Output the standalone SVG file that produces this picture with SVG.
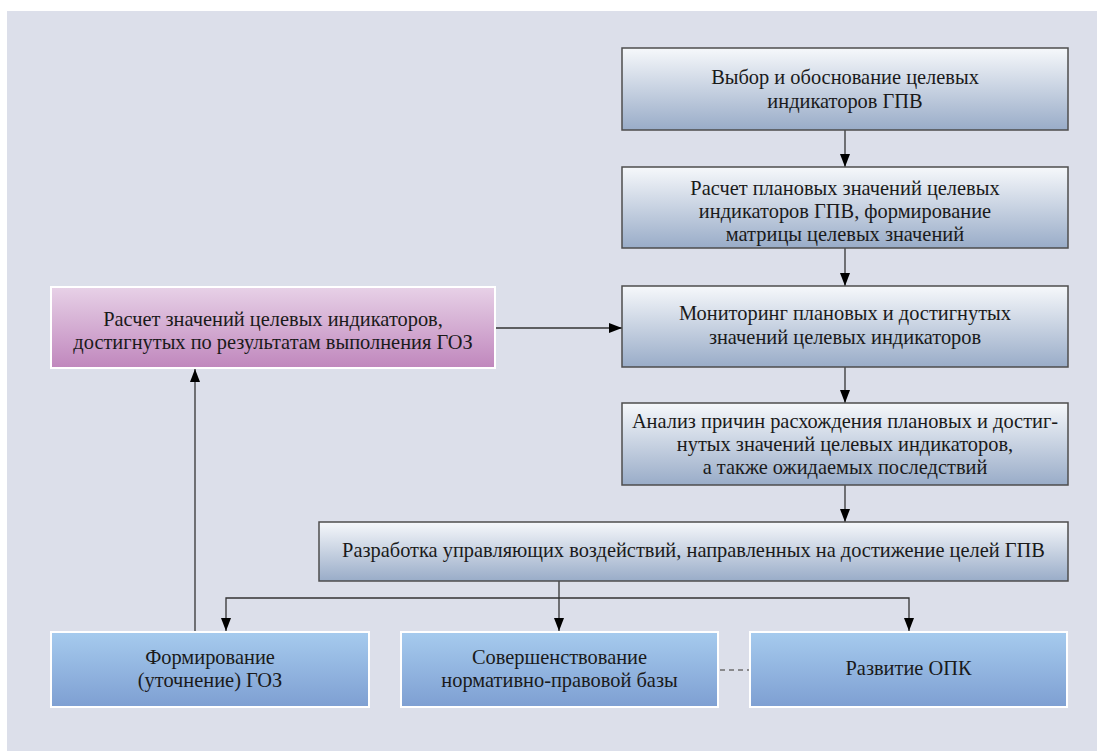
<svg xmlns="http://www.w3.org/2000/svg" width="1097" height="751" viewBox="0 0 1097 751">
<defs>
<linearGradient id="gGrey" x1="0" y1="0" x2="0" y2="1">
<stop offset="0" stop-color="#f6f8fb"/>
<stop offset="1" stop-color="#99acc8"/>
</linearGradient>
<linearGradient id="gPink" x1="0" y1="0" x2="0" y2="1">
<stop offset="0" stop-color="#e7d1e7"/>
<stop offset="1" stop-color="#c087bd"/>
</linearGradient>
<linearGradient id="gBlue" x1="0" y1="0" x2="0" y2="1">
<stop offset="0" stop-color="#a6cbee"/>
<stop offset="1" stop-color="#7e9fd2"/>
</linearGradient>
<marker id="arr" viewBox="0 0 13 10" refX="13" refY="5" markerWidth="13" markerHeight="10" markerUnits="userSpaceOnUse" orient="auto">
<path d="M0,0 L13,5 L0,10 Z" fill="#000"/>
</marker>
</defs>
<style>
.t{font-family:'Liberation Serif','Times New Roman',serif;font-size:20.4px;fill:#1a1a1a;text-anchor:middle}
.g{fill:url(#gGrey);stroke:#4d4d4d;stroke-width:1.5}
.p{fill:url(#gPink);stroke:#ffffff;stroke-width:2}
.b{fill:url(#gBlue);stroke:#ffffff;stroke-width:2}
.c{fill:none;stroke:#333333;stroke-width:1.3}
.d{fill:none;stroke:#6e6e6e;stroke-width:1.5;stroke-dasharray:5 4}
</style>
<rect x="7" y="11" width="1090" height="740" fill="#dcdfea"/>
<g id="connectors">
<line class="c" x1="845" y1="130" x2="845" y2="167" marker-end="url(#arr)"/>
<line class="c" x1="845" y1="248" x2="845" y2="286" marker-end="url(#arr)"/>
<line class="c" x1="845" y1="367" x2="845" y2="403" marker-end="url(#arr)"/>
<line class="c" x1="845" y1="485" x2="845" y2="522" marker-end="url(#arr)"/>
<line class="c" x1="496" y1="328" x2="622" y2="328" marker-end="url(#arr)"/>
<line class="c" x1="195" y1="631" x2="195" y2="369" marker-end="url(#arr)"/>
<line class="c" x1="559" y1="581" x2="559" y2="631" marker-end="url(#arr)"/>
<path class="c" d="M559,598 H226 V631" marker-end="url(#arr)"/>
<path class="c" d="M559,598 H909 V631" marker-end="url(#arr)"/>
<line class="d" x1="720" y1="670" x2="749" y2="670"/>
</g>
<g id="n1">
<rect class="g" x="622" y="48" width="446" height="82"/>
<text class="t" x="845" y="84">Выбор и обоснование целевых</text>
<text class="t" x="845" y="108">индикаторов ГПВ</text>
</g>
<g id="n2">
<rect class="g" x="622" y="167" width="446" height="81"/>
<text class="t" x="845" y="195">Расчет плановых значений целевых</text>
<text class="t" x="845" y="218">индикаторов ГПВ, формирование</text>
<text class="t" x="845" y="241">матрицы целевых значений</text>
</g>
<g id="n3">
<rect class="g" x="622" y="286" width="446" height="81"/>
<text class="t" x="845" y="320">Мониторинг плановых и достигнутых</text>
<text class="t" x="845" y="344">значений целевых индикаторов</text>
</g>
<g id="n4">
<rect class="g" x="622" y="403" width="446" height="82"/>
<text class="t" x="845" y="428">Анализ причин расхождения плановых и достиг-</text>
<text class="t" x="845" y="451">нутых значений целевых индикаторов,</text>
<text class="t" x="845" y="474">а также ожидаемых последствий</text>
</g>
<g id="n5">
<rect class="g" x="319" y="522" width="749" height="59"/>
<text class="t" x="693.5" y="557">Разработка управляющих воздействий, направленных на достижение целей ГПВ</text>
</g>
<g id="n6">
<rect class="p" x="51" y="287" width="444" height="81"/>
<text class="t" x="273" y="326">Расчет значений целевых индикаторов,</text>
<text class="t" x="273" y="349">достигнутых по результатам выполнения ГОЗ</text>
</g>
<g id="n7">
<rect class="b" x="51" y="632" width="318" height="75"/>
<text class="t" x="210" y="664">Формирование</text>
<text class="t" x="210" y="687">(уточнение) ГОЗ</text>
</g>
<g id="n8">
<rect class="b" x="401" y="632" width="317" height="75"/>
<text class="t" x="559.5" y="664">Совершенствование</text>
<text class="t" x="559.5" y="687">нормативно-правовой базы</text>
</g>
<g id="n9">
<rect class="b" x="750" y="632" width="317" height="75"/>
<text class="t" x="908.5" y="675">Развитие ОПК</text>
</g>
</svg>
